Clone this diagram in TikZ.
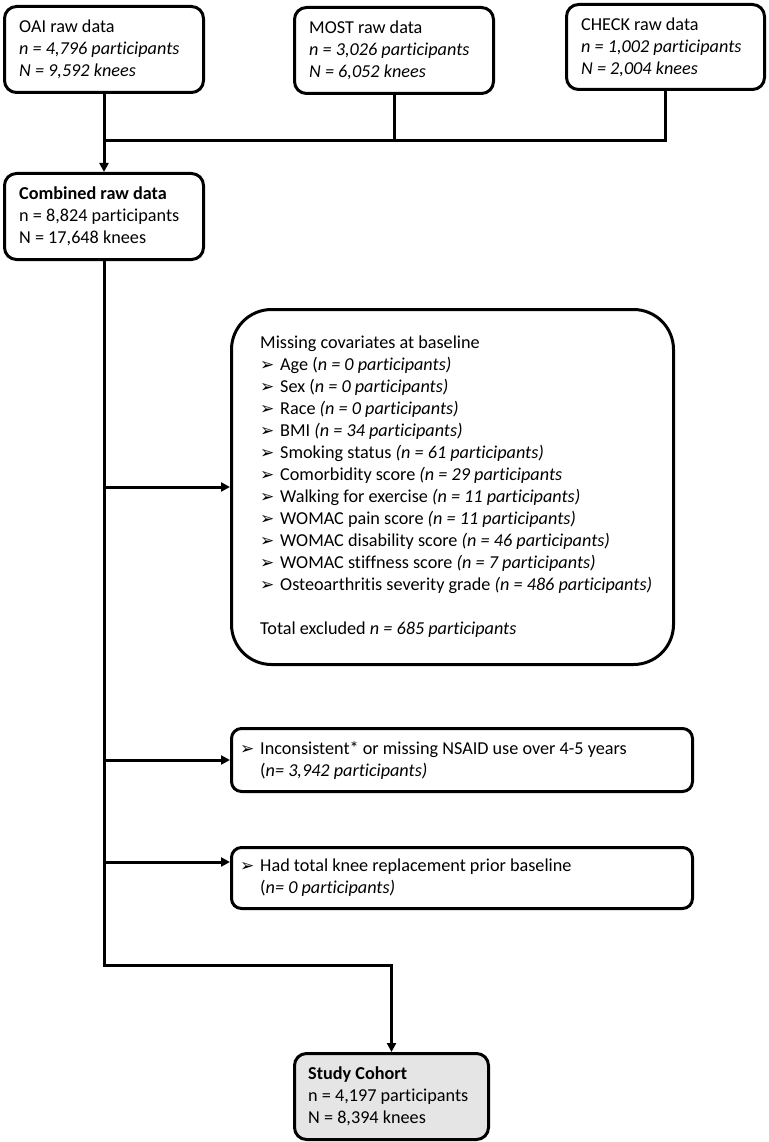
\documentclass[tikz,border=0pt]{standalone}
\usepackage{fontspec}
\setmainfont{Carlito}[Ligatures=NoCommon]
\newfontfamily\dejavu{DejaVu Sans}
\usetikzlibrary{arrows.meta,calc}
\newcommand{\bul}{\makebox[20pt][l]{\raisebox{0pt}{\dejavu\fontsize{17}{17}\selectfont ➢}}}
\begin{document}
\begin{tikzpicture}[x=1pt,y=-1pt,font=\fontsize{18.2}{22}\selectfont,
  box/.style={draw,line width=3pt,rounded corners=12pt,inner sep=0pt,anchor=north west},
  txt/.style={inner sep=0pt,align=left,anchor=west},
  conn/.style={line width=3pt},
  arr/.style={-{Triangle[length=9pt,width=9pt]}}]
\useasboundingbox (0,0) rectangle (768,1142);
% top boxes
\node[box,minimum width=199pt,minimum height=86pt] (oai) at (3,5) {};
\node[txt] (oait) at ($(oai.west)+(16,0)$) {OAI raw data\\\textit{n = 4,796 participants}\\\textit{N = 9,592 knees}};
\node[box,minimum width=199pt,minimum height=86pt] (most) at (293,6) {};
\node[txt] (mostt) at ($(most.west)+(16,0)$) {MOST raw data\\\textit{n = 3,026 participants}\\\textit{N = 6,052 knees}};
\node[box,minimum width=198pt,minimum height=85pt] (check) at (565,3) {};
\node[txt] (checkt) at ($(check.west)+(16,0)$) {CHECK raw data\\\textit{n = 1,002 participants}\\\textit{N = 2,004 knees}};
% combined
\node[box,minimum width=199pt,minimum height=86pt] (comb) at (3,172) {};
\node[txt] (combt) at ($(comb.west)+(16,0)$) {\textbf{Combined raw data}\\n = 8,824 participants\\N = 17,648 knees};
% missing covariates
\node[box,rounded corners=40pt,minimum width=442pt,minimum height=355pt] (miss) at (230,308) {};
\node[txt] (misst) at ($(miss.west)+(30,0)$) {Missing covariates at baseline\\
\bul Age (\textit{n = 0 participants)}\\
\bul Sex (\textit{n = 0 participants)}\\
\bul Race \textit{(n = 0 participants)}\\
\bul BMI \textit{(n = 34 participants)}\\
\bul Smoking status \textit{(n = 61 participants)}\\
\bul Comorbidity score \textit{(n = 29 participants}\\
\bul Walking for exercise \textit{(n = 11 participants)}\\
\bul WOMAC pain score \textit{(n = 11 participants)}\\
\bul WOMAC disability score \textit{(n = 46 participants)}\\
\bul WOMAC stiffness score \textit{(n = 7 participants)}\\
\bul Osteoarthritis severity grade \textit{(n = 486 participants)}\\[22pt]
Total excluded \textit{n = 685 participants}};
% NSAID
\node[box,rounded corners=10pt,minimum width=461pt,minimum height=63pt] (nsaid) at (230,727) {};
\node[txt] (nsaidt) at ($(nsaid.west)+(10,0)$) {\bul Inconsistent* or missing NSAID use over 4-5 years\\\hspace*{20pt}(\textit{n= 3,942 participants)}};
% TKR
\node[box,rounded corners=10pt,minimum width=461pt,minimum height=61pt] (tkr) at (230,846) {};
\node[txt] (tkrt) at ($(tkr.west)+(10,0)$) {\bul Had total knee replacement prior baseline\\\hspace*{20pt}(\textit{n= 0 participants)}};
% study cohort
\node[box,fill=gray!20,minimum width=194pt,minimum height=86pt] (coh) at (293,1052) {};
\node[txt] (coht) at ($(coh.west)+(15,0)$) {\textbf{Study Cohort}\\n = 4,197 participants\\N = 8,394 knees};
% connectors
\coordinate (bus) at (0,141);
\coordinate (turn) at (0,965);
\coordinate (tkrin) at ($(tkr.north west)+(0,16)$);
\draw[conn] (most.south) -- (most.south |- bus);
\draw[conn] (check.south) |- (bus -| oai.south);
\draw[conn,arr] (oai.south) -- (comb.north);
\draw[conn,arr] (comb.south) -- (comb.south |- turn) -| (coh.north);
\draw[conn,arr] (comb.south |- miss.west) -- (miss.west);
\draw[conn,arr] (comb.south |- nsaid.west) -- (nsaid.west);
\draw[conn,arr] (comb.south |- tkrin) -- (tkrin);
\end{tikzpicture}
\end{document}
